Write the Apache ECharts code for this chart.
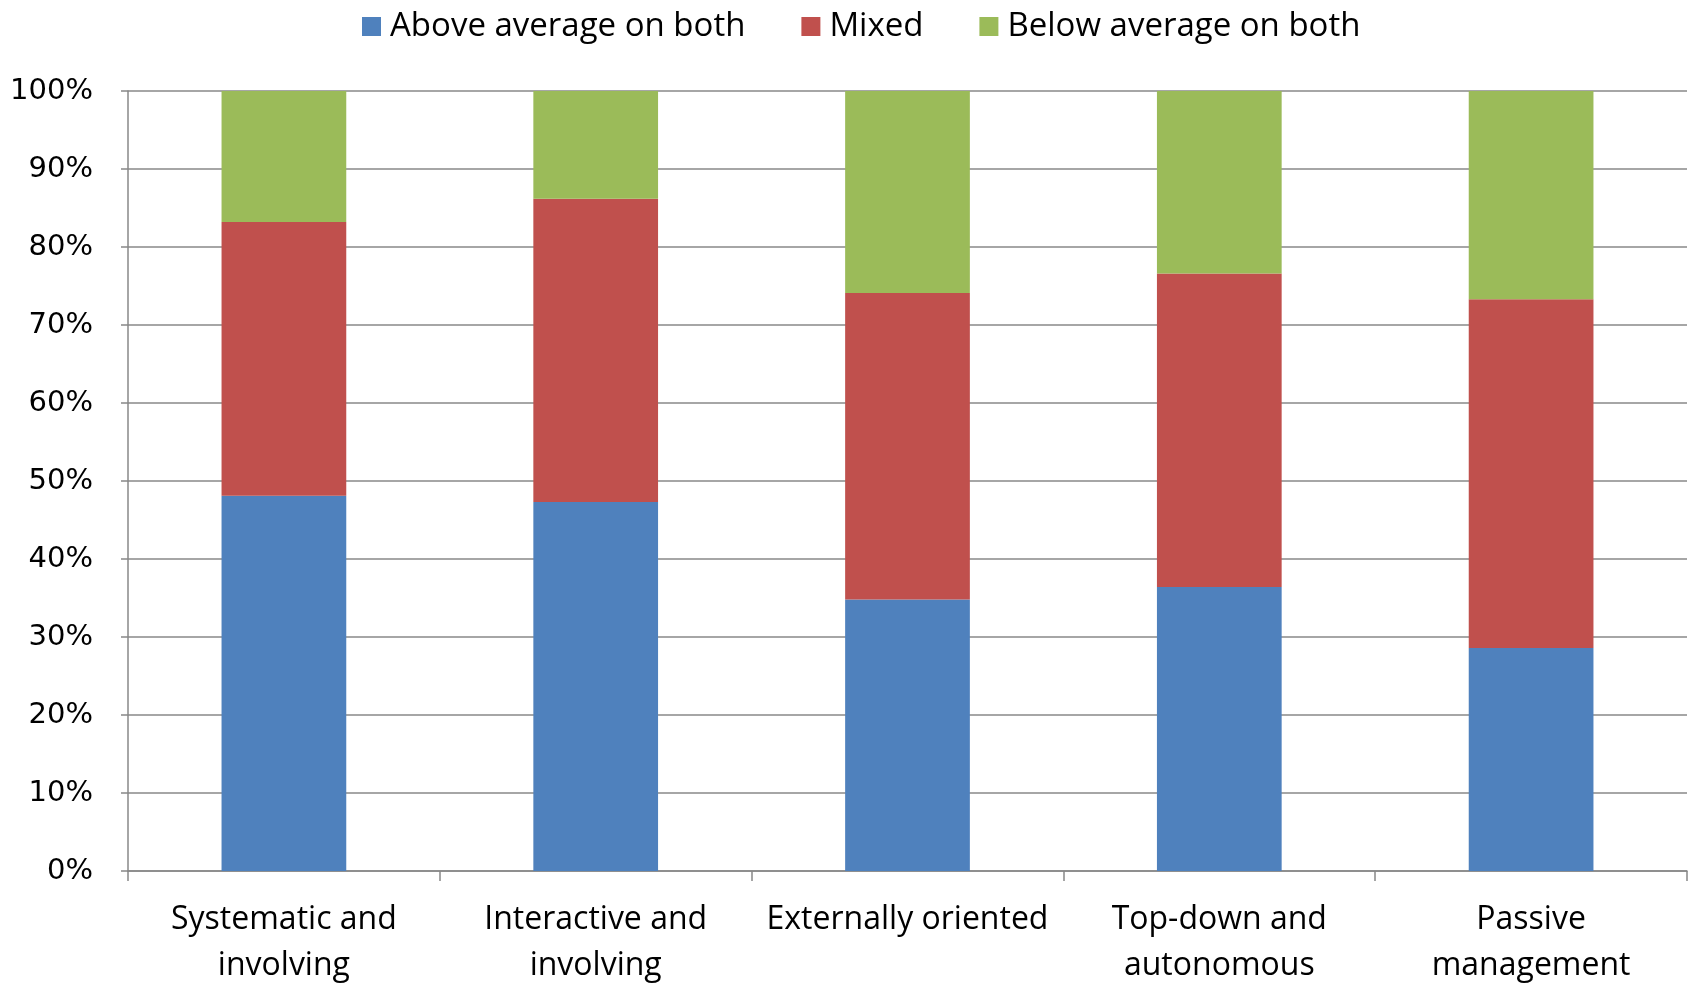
<!DOCTYPE html>
<html>
<head>
<meta charset="utf-8">
<script src="https://cdn.jsdelivr.net/npm/echarts@6/dist/echarts.min.js"></script>
<style>
html,body{margin:0;padding:0;background:#fff;}
#main{width:1694px;height:983px;}
</style>
</head>
<body>
<div id="main"></div>
<script>
var categories = ['Systematic and\ninvolving', 'Interactive and\ninvolving', 'Externally oriented', 'Top-down and\nautonomous', 'Passive\nmanagement'];
var seriesNames = ['Above average on both', 'Mixed', 'Below average on both'];
var aboveBoth = [48.1, 47.3, 34.8, 36.4, 28.6];
var mixed = [35.1, 38.9, 39.3, 40.2, 44.7];
var belowBoth = [16.8, 13.8, 25.9, 23.4, 26.7];
var colors = ['#4F81BD', '#C0504D', '#9BBB59'];

var chart = echarts.init(document.getElementById('main'));
var font = 'Open Sans';

function bar(name, data, color) {
    return {
        name: name,
        type: 'bar',
        stack: 'total',
        data: data,
        barWidth: '40%',
        itemStyle: {color: color},
        emphasis: {disabled: true}
    };
}

var option = {
    animation: false,
    color: colors,
    legend: {
        top: 5,
        left: 357,
        itemWidth: 19,
        itemHeight: 19,
        itemGap: 56,
        icon: 'rect',
        textStyle: {fontFamily: font, fontSize: 33, color: '#000', padding: [0, 0, 0, 4]},
        data: seriesNames
    },
    grid: {left: 128, right: 7, top: 91, bottom: 112, outerBoundsMode: 'none'},
    xAxis: {
        type: 'category',
        data: categories,
        axisLine: {lineStyle: {color: '#888', width: 1.5}},
        axisTick: {show: true, interval: 0, length: 10, lineStyle: {color: '#888', width: 1.5}},
        axisLabel: {interval: 0, fontFamily: font, fontSize: 32, color: '#000', margin: 26, lineHeight: 46}
    },
    yAxis: {
        type: 'value',
        min: 0,
        max: 100,
        interval: 10,
        axisLine: {show: true, lineStyle: {color: '#888', width: 1.5}},
        axisTick: {show: true, length: 7, lineStyle: {color: '#888', width: 1.5}},
        splitLine: {lineStyle: {color: '#888', width: 1.5}},
        axisLabel: {
            fontFamily: 'DejaVu Sans', fontSize: 29, color: '#000', margin: 35,
            formatter: function (v) { return v + '%'; }
        }
    },
    series: [
        bar(seriesNames[0], aboveBoth, colors[0]),
        bar(seriesNames[1], mixed, colors[1]),
        bar(seriesNames[2], belowBoth, colors[2])
    ]
};
chart.setOption(option);
</script>
</body>
</html>
